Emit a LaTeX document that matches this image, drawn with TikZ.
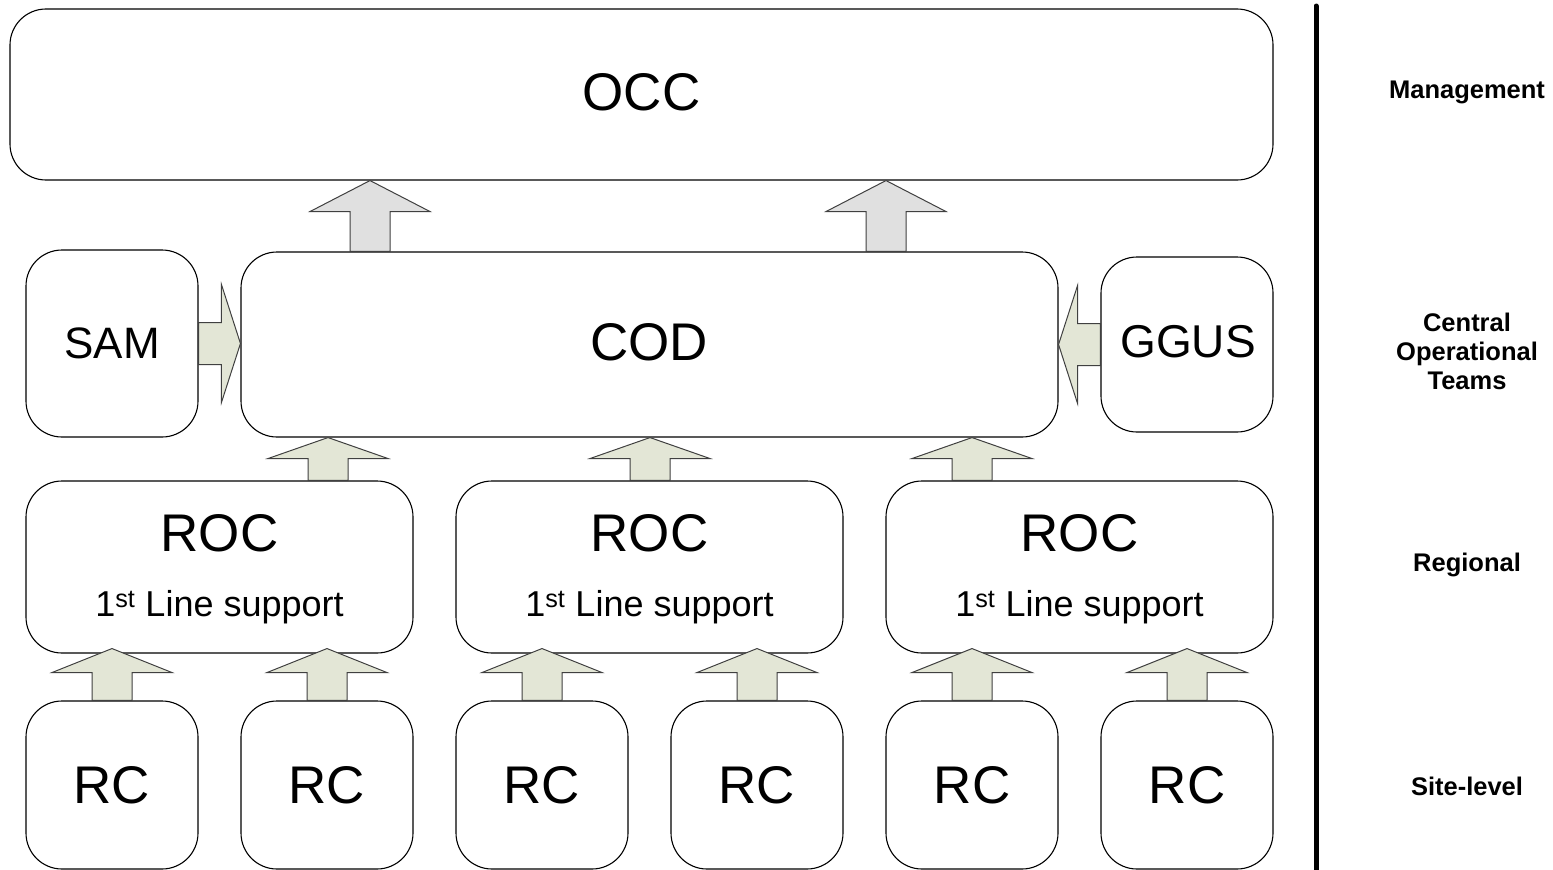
\documentclass[tikz,border=0pt]{standalone}
\usepackage{fontspec}
\setmainfont{Liberation Sans}
\usetikzlibrary{calc}
\definecolor{arrgreen}{RGB}{227,230,214}
\definecolor{arrgray}{RGB}{224,224,224}
\definecolor{arrline}{RGB}{64,64,64}
\tikzset{
  box/.style={draw=black, line width=1.1pt, rounded corners=36pt, inner sep=0pt, fill=white},
  bigtxt/.style={font=\fontsize{53}{60}\selectfont},
  midtxt/.style={font=\fontsize{44}{50}\selectfont},
  subtxt/.style={font=\fontsize{36}{40}\selectfont},
  lvl/.style={font=\fontsize{25.5}{29}\selectfont\bfseries, align=center},
  grayarr/.style={draw=arrline, line width=1pt, fill=arrgray, line join=miter},
  greenarr/.style={draw=arrline, line width=1pt, fill=arrgreen, line join=miter},
}
% #1 style, #2 start, #3 tip, #4 head length, #5 head half width, #6 shaft half width
\newcommand\blockarrow[6]{%
  \coordinate (baA) at (#2);
  \coordinate (baB) at (#3);
  \coordinate (baH) at ($(baB)!#4!(baA)$);
  \draw[#1] ($(baA)!#6!90:(baB)$) -- ($(baH)!#6!90:(baB)$) -- ($(baH)!#5!90:(baB)$)
    -- (baB) -- ($(baH)!#5!-90:(baB)$) -- ($(baH)!#6!-90:(baB)$) -- ($(baA)!#6!-90:(baB)$) -- cycle;}
\begin{document}
\begin{tikzpicture}[x=1pt, y=-1pt]
\useasboundingbox (0,0) rectangle (1553,870);
\fill[white] (0,0) rectangle (1553,870);

% boxes
\node[box, minimum width=1263pt, minimum height=171pt] (occ) at (641.5,94.5) {};
\node[bigtxt] (occt) at (641.5,92) {OCC};
\node[box, midtxt, minimum width=172pt, minimum height=187pt] (sam) at (112,343.5) {SAM};
\node[box, minimum width=817pt, minimum height=185pt] (cod) at (649.5,344.5) {};
\node[bigtxt] (codt) at (649,342) {COD};
\node[box, minimum width=172pt, minimum height=175pt] (ggus) at (1187,344.5) {};
\node[font=\fontsize{46}{50}\selectfont] (ggust) at (1188,342) {GGUS};

\foreach \n/\x in {1/219.5, 2/649.5, 3/1079.5}{
  \node[box, minimum width=387pt, minimum height=172pt] (roc\n) at (\x,567) {};
  \node[bigtxt, anchor=base] (roct\n) at ($(roc\n.north)+(0,71)$) {ROC};
  \node[subtxt, anchor=base] (rocs\n) at ($(roc\n.north)+(0,136)$) {1\textsuperscript{st} Line support};
}
\foreach \n/\x in {1/112, 2/327, 3/542, 4/757, 5/972, 6/1187}{
  \node[box, bigtxt, minimum width=172pt, minimum height=168pt] (rc\n) at (\x,785) {RC};
}

% arrows OCC <- COD
\coordinate (u1) at (370,0);
\coordinate (u2) at (886,0);
\blockarrow{grayarr}{cod.north -| u1}{occ.south -| u1}{31pt}{60pt}{20pt}
\blockarrow{grayarr}{cod.north -| u2}{occ.south -| u2}{31pt}{60pt}{20pt}

% arrows COD <- ROC
\coordinate (v1) at (328,0);
\coordinate (v2) at (650,0);
\coordinate (v3) at (972,0);
\blockarrow{greenarr}{roc1.north -| v1}{cod.south -| v1}{21pt}{60pt}{20pt}
\blockarrow{greenarr}{roc2.north -| v2}{cod.south -| v2}{21pt}{60pt}{20pt}
\blockarrow{greenarr}{roc3.north -| v3}{cod.south -| v3}{21pt}{60pt}{20pt}

% arrows ROC <- RC
\foreach \r/\c in {1/1, 1/2, 2/3, 2/4, 3/5, 3/6}{
  \coordinate (rt\c) at ($(roc\r.south -| rc\c.north)+(0,-5)$);
  \blockarrow{greenarr}{rc\c.north}{rt\c}{24pt}{60pt}{20pt}
}

% side arrows
\blockarrow{greenarr}{sam.east}{sam.east -| cod.west}{19pt}{59pt}{21pt}
\blockarrow{greenarr}{ggus.west}{ggus.west -| cod.east}{19pt}{59pt}{21pt}

% divider
\coordinate (dtop) at (1316,6);
\coordinate (dbot) at (1316,870);
\draw[line width=5pt, line cap=round] (dtop) -- (dbot);

% level labels
\node[lvl] (lmgmt) at (1467,92) {Management};
\node[lvl] (lcot) at (1467,351) {Central\\Operational\\Teams};
\node[lvl] (lreg) at (1467,565) {Regional};
\node[lvl] (lsite) at (1467,786) {Site-level};
\end{tikzpicture}
\end{document}
